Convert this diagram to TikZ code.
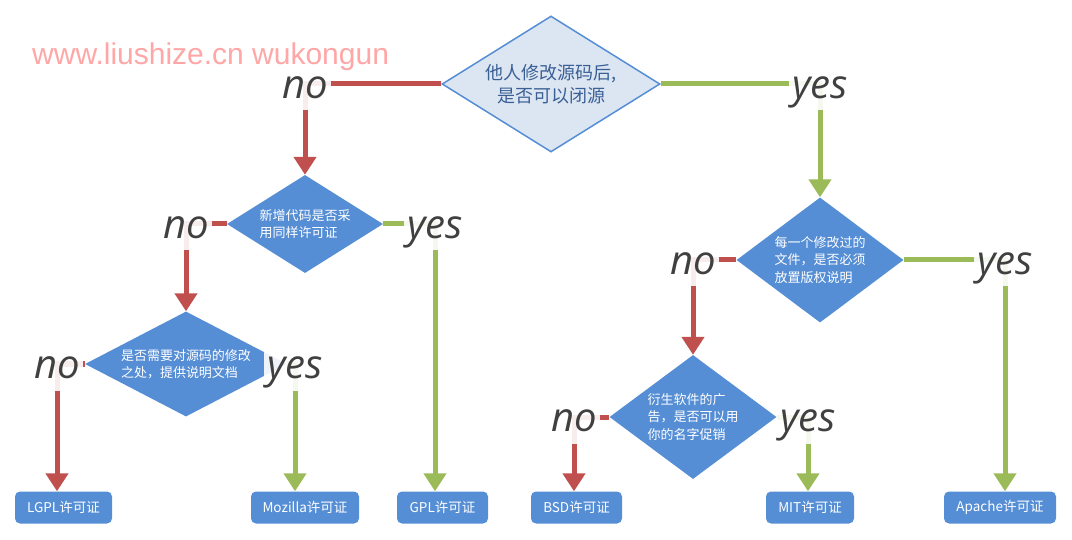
\documentclass[tikz,border=0pt]{standalone}
\usepackage{fontspec}
\setmainfont{Noto Sans CJK SC}
\newfontfamily\labfont{Open Sans}
\newfontfamily\wmfont{Liberation Sans}
\usetikzlibrary{shapes.geometric,arrows.meta,backgrounds}
\definecolor{nored}{HTML}{C0504D}
\definecolor{yesgreen}{HTML}{9BBB59}
\definecolor{qblue}{HTML}{558ED5}
\definecolor{qpale}{HTML}{DCE6F2}
\definecolor{qdark}{HTML}{3A5F95}
\definecolor{labgray}{HTML}{404040}
\definecolor{wmpink}{HTML}{FFA6A6}
\begin{document}
\begin{tikzpicture}[x=1pt,y=-1pt,
	q/.style={diamond,fill=qblue,text=white,inner sep=0pt,align=left,font=\fontsize{13}{17.5}\selectfont},
	lic/.style={rectangle,rounded corners=5pt,fill=qblue,text=white,minimum height=32pt,inner sep=0pt,font=\fontsize{13.5}{15}\selectfont},
	lab/.style={fill=white,fill opacity=0.9,text opacity=1,text=labgray,inner xsep=3pt,inner ysep=3pt,text height=38pt,text depth=9pt,font=\labfont\itshape\fontsize{40}{40}\selectfont},
	nol/.style={nored,line width=5pt,-{Triangle[length=18pt,width=22pt]}},
	yesl/.style={nol,yesgreen}]
	\useasboundingbox (0,0) rectangle (1072,540);
	\node[diamond,aspect=1.6,fill=qpale,draw=qblue,line width=1.5pt,text=qdark,inner sep=0pt,align=center,minimum width=218pt,minimum height=136pt,font=\fontsize{18}{23.5}\selectfont] (q1) at (551,84) {他人修改源码后,\\是否可以闭源};
	\node[q,aspect=1.6,minimum width=156pt,minimum height=98pt] (q2) at (305,224) {新增代码是否采\\用同样许可证};
	\node[q,aspect=1.92,minimum width=202pt,minimum height=105pt] (q3) at (186,364) {是否需要对源码的修改\\之处，提供说明文档};
	\node[q,aspect=1.34,minimum width=167pt,minimum height=125pt] (q4) at (820,260) {每一个修改过的\\文件，是否必须\\放置版权说明};
	\node[q,aspect=1.35,minimum width=167pt,minimum height=124pt] (q5) at (693,417) {衍生软件的广\\告，是否可以用\\你的名字促销};
	\foreach \n/\x/\w/\t in {lgpl/63.5/97/LGPL许可证,mozilla/305/108/Mozilla许可证,gpl/442.5/91/GPL许可证,bsd/576.5/91/BSD许可证,mit/810/88/MIT许可证,apache/1000/112/Apache许可证}{
		\node[lic,minimum width=\w pt] (\n) at (\x,507.5) {\t};}
	\node[lab] (no1) at (q2.north |- q1.west) {no};
	\node[lab] (yes1) at (q4.north |- q1.east) {yes};
	\node[lab] (no2) at (q3.north |- q2.west) {no};
	\node[lab] (yes2) at (435,224) {yes};
	\node[lab] (no3) at (57,364) {no};
	\node[lab] (yes3) at (295,364) {yes};
	\node[lab] (no4) at (q5.north |- q4.west) {no};
	\node[lab] (yes4) at (1005,260) {yes};
	\node[lab] (no5) at (574,417) {no};
	\node[lab] (yes5) at (808,417) {yes};
	\node[anchor=base west,inner sep=0pt,text=wmpink,font=\wmfont\fontsize{30}{30}\selectfont] (wm) at (32,65) {www.liushize.cn wukongun};
	\begin{scope}[on background layer]
		\draw[nol] (q1.west) -- (no1.center) -- (q2.north);
		\draw[yesl] (q1.east) -- (yes1.center) -- (q4.north);
		\draw[nol] (q2.west) -- (no2.center) -- (q3.north);
		\draw[yesl] (q2.east) -- (yes2.center) -- (yes2.center |- gpl.north);
		\draw[nol] (q3.west) -- (no3.center) -- (no3.center |- lgpl.north);
		\draw[yesl] (q3.east) -- (yes3.center) -- (yes3.center |- mozilla.north);
		\draw[nol] (q4.west) -- (no4.center) -- (q5.north);
		\draw[yesl] (q4.east) -- (yes4.center) -- (yes4.center |- apache.north);
		\draw[nol] (q5.west) -- (no5.center) -- (no5.center |- bsd.north);
		\draw[yesl] (q5.east) -- (yes5.center) -- (yes5.center |- mit.north);
	\end{scope}
\end{tikzpicture}
\end{document}
